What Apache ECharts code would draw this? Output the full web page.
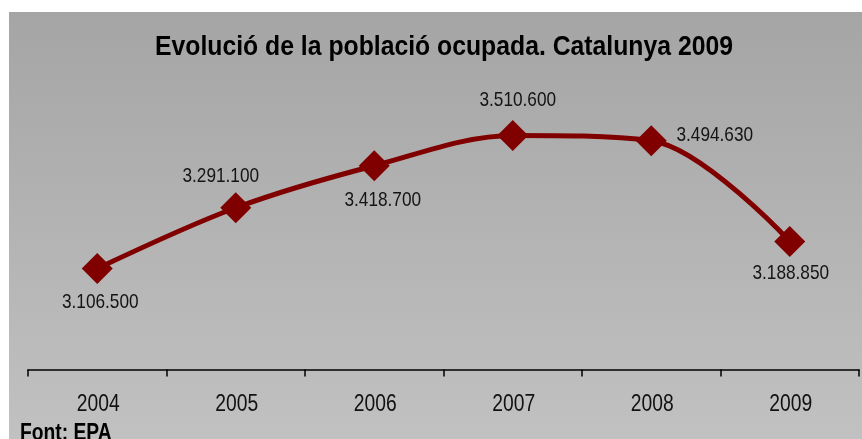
<!DOCTYPE html>
<html>
<head>
<meta charset="utf-8">
<script src="https://cdn.jsdelivr.net/npm/echarts@6/dist/echarts.min.js"></script>
<style>
html,body{margin:0;padding:0;background:#fff;}
#c{width:862px;height:439px;}
</style>
</head>
<body>
<div id="c"></div>
<script>
const categories = ['2004', '2005', '2006', '2007', '2008', '2009'];
const ocupats = [3106500, 3291100, 3418700, 3510600, 3494630, 3188850];
const titleText = 'Evolució de la població ocupada. Catalunya 2009';
const sourceText = 'Font: EPA';
const yMin = 2800000;
const yMax = 3600000;

// label offsets (px) relative to the marker centre
const labelOffsets = [[3, 34], [-15, -32], [8.5, 34.5], [5, -35], [63.5, -6], [1, 31.5]];

const FONT = '"Liberation Sans", Arial, sans-serif';
const NARROW = 0.82; // Arial Narrow ~ 82% of Arial width

function fmt(v) {
  return String(v).replace(/\B(?=(\d{3})+(?!\d))/g, '.');
}

// horizontal scale for the title so that it gets the reference width
const ctx = document.createElement('canvas').getContext('2d');
ctx.font = 'bold 27px "Liberation Sans", Arial, sans-serif';
const titleScale = 578 / ctx.measureText(titleText).width;

const chart = echarts.init(document.getElementById('c'));
chart.setOption({
  animation: false,
  graphic: [
    {
      type: 'rect', z: -10, silent: true,
      shape: { x: 9, y: 12, width: 853, height: 427 },
      style: {
        fill: { type: 'linear', x: 0, y: 0, x2: 0, y2: 1,
          colorStops: [{ offset: 0, color: '#a5a5a5' }, { offset: 1, color: '#c1c1c1' }] }
      }
    },
    {
      type: 'text', x: 444, y: 47.5, scaleX: titleScale, z: 10, silent: true,
      style: { text: titleText, fontFamily: FONT, fontWeight: 'bold', fontSize: 27,
        fill: '#000', align: 'center', verticalAlign: 'middle' }
    },
    {
      type: 'text', x: 20, y: 434, scaleX: NARROW, z: 10, silent: true,
      style: { text: sourceText, fontFamily: FONT, fontWeight: 'bold', fontSize: 23.5,
        fill: '#000', align: 'left', verticalAlign: 'middle' }
    }
  ],
  grid: { left: 28, right: 3, top: 106, bottom: 69.5, containLabel: false },
  xAxis: {
    type: 'category',
    data: categories,
    boundaryGap: true,
    axisLine: { show: true, lineStyle: { color: '#000', width: 1.5 } },
    axisTick: { show: true, length: 7, lineStyle: { color: '#000', width: 1.5 } },
    axisLabel: { show: false },
    splitLine: { show: false }
  },
  yAxis: {
    type: 'value', min: yMin, max: yMax, show: false,
    splitLine: { show: false }
  },
  series: [
    {
      type: 'line',
      data: ocupats,
      smooth: 0.33,
      smoothConstraint: false,
      symbol: 'diamond',
      symbolSize: 31,
      itemStyle: { color: '#800000' },
      lineStyle: { color: '#800000', width: 5 },
      label: { show: false },
      z: 3
    },
    {
      // value labels (narrow font)
      type: 'custom',
      data: ocupats.map((v, i) => [i, v]),
      encode: { x: 0, y: 1 },
      clip: false,
      silent: true,
      z: 5,
      renderItem: function (params, api) {
        const p = api.coord([api.value(0), api.value(1)]);
        const off = labelOffsets[params.dataIndex];
        return {
          type: 'text', x: p[0] + off[0], y: p[1] + off[1], scaleX: NARROW,
          style: { text: fmt(api.value(1)), fontFamily: FONT, fontSize: 21,
            fill: '#141414', align: 'center', verticalAlign: 'middle' }
        };
      }
    },
    {
      // category labels under the axis (narrow font)
      type: 'custom',
      data: categories.map((c, i) => [i, yMin]),
      encode: { x: 0, y: 1 },
      clip: false,
      silent: true,
      z: 5,
      renderItem: function (params, api) {
        const p = api.coord([api.value(0), api.value(1)]);
        return {
          type: 'text', x: p[0] + 1, y: p[1] + 35, scaleX: NARROW,
          style: { text: categories[params.dataIndex], fontFamily: FONT, fontSize: 23.5,
            fill: '#111', align: 'center', verticalAlign: 'middle' }
        };
      }
    }
  ]
});
</script>
</body>
</html>
